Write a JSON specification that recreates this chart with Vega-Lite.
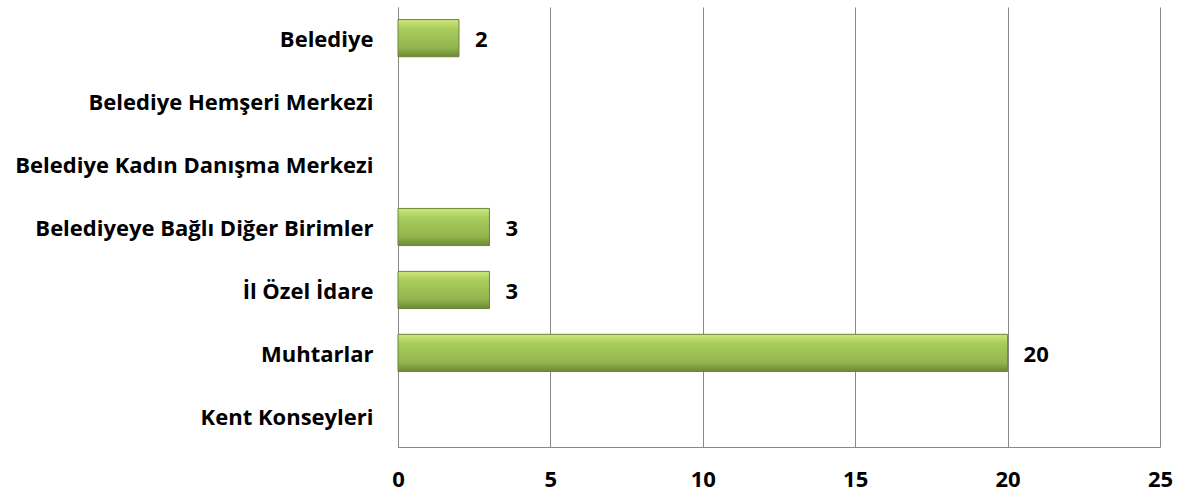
{
  "$schema": "https://vega.github.io/schema/vega-lite/v6.json",
  "autosize": {"type": "none"},
  "width": 762,
  "height": 440,
  "padding": {"left": 398, "top": 7, "right": 18, "bottom": 49},
  "background": "white",
  "config": {
    "view": {"stroke": null},
    "font": "Open Sans",
    "axis": {"labelFont": "Open Sans", "labelFontWeight": "bold", "labelColor": "#000", "labelFontSize": 22, "labelLimit": 0}
  },
  "data": {"values": [
    {"kurum": "Belediye", "sayi": 2},
    {"kurum": "Belediye Hemşeri Merkezi", "sayi": 0},
    {"kurum": "Belediye Kadın Danışma Merkezi", "sayi": 0},
    {"kurum": "Belediyeye Bağlı Diğer Birimler", "sayi": 3},
    {"kurum": "İl Özel İdare", "sayi": 3},
    {"kurum": "Muhtarlar", "sayi": 20},
    {"kurum": "Kent Konseyleri", "sayi": 0}
  ]},
  "encoding": {
    "y": {
      "field": "kurum", "type": "nominal", "sort": null,
      "scale": {"paddingInner": 0.41, "paddingOuter": 0.2},
      "axis": {"title": null, "ticks": false, "domain": true, "domainColor": "#888", "labelPadding": 25, "labelOffset": 2, "grid": false}
    },
    "x": {
      "field": "sayi", "type": "quantitative",
      "scale": {"domain": [0, 25], "nice": false},
      "axis": {"title": null, "values": [0, 5, 10, 15, 20, 25], "grid": true, "gridColor": "#888", "gridOpacity": 1, "ticks": false, "domainColor": "#888", "labelPadding": 22, "labelFlush": false}
    }
  },
  "layer": [
    {
      "mark": {
        "type": "bar",
        "stroke": "#6a8535",
        "strokeWidth": 1,
        "color": {
          "gradient": "linear", "x1": 0, "y1": 0, "x2": 0, "y2": 1,
          "stops": [
            {"offset": 0, "color": "#cde87c"},
            {"offset": 0.25, "color": "#a9cc5c"},
            {"offset": 0.75, "color": "#93b54e"},
            {"offset": 1, "color": "#6d8a36"}
          ]
        }
      },
      "encoding": {
        "strokeOpacity": {"condition": {"test": "datum.sayi > 0", "value": 1}, "value": 0}
      }
    },
    {
      "transform": [{"filter": "datum.sayi > 0"}],
      "mark": {"type": "text", "align": "left", "dx": 16, "dy": 2, "fontSize": 22, "fontWeight": "bold", "font": "Open Sans", "color": "#000"},
      "encoding": {"text": {"field": "sayi", "type": "quantitative"}}
    }
  ]
}
